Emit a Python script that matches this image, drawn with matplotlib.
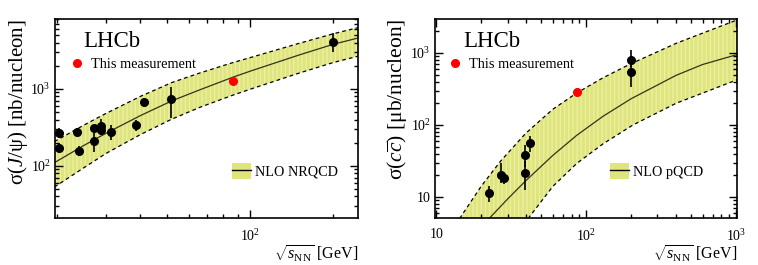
import numpy as np
import matplotlib
matplotlib.use("Agg")
import matplotlib.pyplot as plt
from matplotlib.ticker import LogLocator, FuncFormatter, NullFormatter
from matplotlib.lines import Line2D
from matplotlib.patches import Patch

plt.rcParams['font.family'] = ['Liberation Serif', 'DejaVu Serif']
plt.rcParams['mathtext.fontset'] = 'custom'
plt.rcParams['mathtext.rm'] = 'Liberation Serif'
plt.rcParams['mathtext.it'] = 'Liberation Serif:italic'
plt.rcParams['mathtext.bf'] = 'Liberation Serif:bold'

# --- J/psi cross-section vs sqrt(s_NN) ---
jpsi_E = [20.3, 20.3, 23.6, 24.0, 27.2, 27.2, 28.8, 28.8, 31.4, 38.4, 41.3, 51.8, 200]
jpsi_sig = [266, 170, 274, 157, 314, 211, 331, 294, 279, 341, 678, 735, 4110]
jpsi_err_lo = [37, 24, 33, 24, 18, 58, 20, 42, 62, 53, 89, 319, 1060]
jpsi_err_hi = [43, 27, 36, 26, 20, 55, 73, 20, 62, 55, 80, 318, 1160]
jpsi_lhcb_E = [86.6]
jpsi_lhcb_sig = [1270]

# NLO NRQCD band
nrqcd_E = [19.5, 25, 30, 40, 52, 66, 86.6, 100, 150, 200, 250]
nrqcd_mid = [110, 185, 265, 450, 700, 980, 1420, 1700, 2750, 3800, 4650]
nrqcd_hi = [207, 340, 480, 800, 1210, 1620, 2200, 2550, 3900, 5200, 6350]
nrqcd_lo = [53, 95, 145, 255, 405, 580, 830, 990, 1600, 2200, 2700]

# --- c cbar cross-section vs sqrt(s_NN) ---
cc_E = [22.6, 27.0, 28.4, 39.0, 39.0, 42.5, 200, 200]
cc_sig = [11.2, 20.2, 18.2, 38.3, 21.7, 55.7, 792, 550]
cc_err_lo = [2.6, 4.4, 3.0, 12, 9.1, 13.2, 150, 210]
cc_err_hi = [2.9, 9.1, 3.0, 14.4, 10, 14.8, 308, 150]
cc_lhcb_E = [86.6]
cc_lhcb_sig = [287]

# NLO pQCD band
pqcd_E_mid = [22.5, 30, 39.6, 60, 86.7, 130, 200, 400, 600, 1050]
pqcd_mid = [5.0, 9.4, 16.8, 37.7, 71.8, 132, 231, 489, 690, 965]
pqcd_E_hi = [14.3, 20, 27, 39.6, 60, 86.7, 130, 194, 400, 1050]
pqcd_hi = [5.0, 14.2, 31.8, 76.7, 165, 278, 452, 689, 1360, 2940]
pqcd_E_lo = [41, 60, 86.7, 130, 207, 400, 1050]
pqcd_lo = [5.0, 14.0, 29.2, 54.7, 100.5, 200, 433]

band_color = '#dfe57a'
hatch_color = '#eaeea6'


def root_log_fmt(v, pos):
    e = int(round(np.log10(v)))
    if e == 1:
        return '10'
    return r'$10^{%d}$' % e


def style_axis(ax):
    ax.set_xscale('log')
    ax.set_yscale('log')
    for axis in (ax.xaxis, ax.yaxis):
        axis.set_major_locator(LogLocator(base=10))
        axis.set_minor_locator(LogLocator(base=10, subs=np.arange(2, 10)))
        axis.set_major_formatter(FuncFormatter(root_log_fmt))
        axis.set_minor_formatter(NullFormatter())
    ax.tick_params(which='both', direction='in', top=True, right=True,
                   labelsize=10, width=1)
    ax.tick_params(which='major', length=6)
    ax.tick_params(which='minor', length=3)
    ax.tick_params(axis='x', pad=7)
    ax.tick_params(axis='y', pad=3)
    for s in ax.spines.values():
        s.set_linewidth(1.2)


def add_legends(ax, xr, xn, band_label):
    red = Line2D([], [], marker='o', color='red', ls='none', markersize=5.5)
    leg1 = ax.legend([red], ['This measurement'], loc='center left',
                     bbox_to_anchor=(xr, 0.772), frameon=False, fontsize=10.3,
                     borderpad=0, borderaxespad=0, handlelength=1.0,
                     handletextpad=0.48)
    ax.add_artist(leg1)
    band = Patch(facecolor=band_color, edgecolor='none')
    line = Line2D([], [], color='black', lw=1)
    ax.legend([(band, line)], [band_label], loc='center left',
              bbox_to_anchor=(xn, 0.236), frameon=False, fontsize=10.3,
              borderpad=0, borderaxespad=0, handlelength=1.35,
              handleheight=1.3, handletextpad=0.3)


fig = plt.figure(figsize=(7.58, 2.65), dpi=100)
ax1 = fig.add_axes([55 / 758, 47 / 265, 303 / 758, 199 / 265])
ax2 = fig.add_axes([435 / 758, 47 / 265, 302 / 758, 199 / 265])

# left panel
ax1.fill_between(nrqcd_E, nrqcd_lo, nrqcd_hi, facecolor=band_color,
                 edgecolor=hatch_color, hatch='||||', lw=0, zorder=1)
ax1.plot(nrqcd_E, nrqcd_hi, color='black', lw=0.9, ls=(0, (3, 2.5)), zorder=2)
ax1.plot(nrqcd_E, nrqcd_lo, color='black', lw=0.9, ls=(0, (3, 2.5)), zorder=2)
ax1.plot(nrqcd_E, nrqcd_mid, color='#33331a', lw=0.9, zorder=2)
ax1.errorbar(jpsi_E, jpsi_sig, yerr=[jpsi_err_lo, jpsi_err_hi], fmt='o',
             color='black', markersize=5.5, elinewidth=1.2, capsize=0, zorder=3)
ax1.plot(jpsi_lhcb_E, jpsi_lhcb_sig, 'o', color='red', markersize=5.5, zorder=3)
style_axis(ax1)
ax1.set_xlim(19.6, 246)
ax1.set_ylim(21, 8100)
ax1.set_ylabel(r'σ($J$/ψ) [nb/nucleon]', fontsize=15, loc='top', labelpad=0)
ax1.set_xlabel(r'$\sqrt{s_{\rm NN}}$ [GeV]', fontsize=11.5, loc='right', labelpad=0)
ax1.text(0.092, 0.859, 'LHCb', transform=ax1.transAxes, fontsize=16.5)
add_legends(ax1, 0.048, 0.583, 'NLO NRQCD')

# right panel
ax2.fill(pqcd_E_hi + pqcd_E_lo[::-1], pqcd_hi + pqcd_lo[::-1],
         facecolor=band_color, edgecolor=hatch_color, hatch='||||', lw=0, zorder=1)
ax2.plot(pqcd_E_hi, pqcd_hi, color='black', lw=0.9, ls=(0, (3, 2.5)), zorder=2)
ax2.plot(pqcd_E_lo, pqcd_lo, color='black', lw=0.9, ls=(0, (3, 2.5)), zorder=2)
ax2.plot(pqcd_E_mid, pqcd_mid, color='#33331a', lw=0.9, zorder=2)
ax2.errorbar(cc_E, cc_sig, yerr=[cc_err_lo, cc_err_hi], fmt='o',
             color='black', markersize=5.5, elinewidth=1.2, capsize=0, zorder=3)
ax2.plot(cc_lhcb_E, cc_lhcb_sig, 'o', color='red', markersize=5.5, zorder=3)
style_axis(ax2)
ax2.set_xlim(9.8, 1020)
ax2.set_ylim(5.1, 2960)
ax2.set_ylabel(r'σ($c\overline{c}$) [μb/nucleon]', fontsize=15.5, loc='top', labelpad=0)
ax2.set_xlabel(r'$\sqrt{s_{\rm NN}}$ [GeV]', fontsize=11.5, loc='right', labelpad=0)
ax2.text(0.093, 0.859, 'LHCb', transform=ax2.transAxes, fontsize=16.5)
add_legends(ax2, 0.0425, 0.579, 'NLO pQCD')

fig.savefig('out.png', dpi=100)
